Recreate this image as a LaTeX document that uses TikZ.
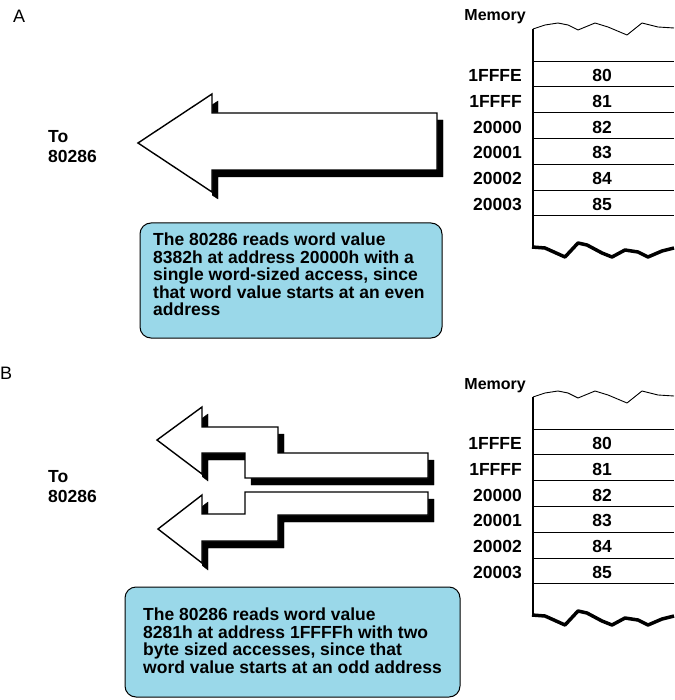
\documentclass[tikz,border=0pt]{standalone}
\usepackage{fontspec}
\setmainfont{Liberation Sans}
\usetikzlibrary{positioning}
\definecolor{memNote}{HTML}{9AD8E9}
\tikzset{
  memtext/.style={font=\fontsize{17.5}{17.5}\selectfont\bfseries, inner sep=0pt},
  memhead/.style={font=\fontsize{16}{16}\selectfont\bfseries, inner sep=0pt, anchor=base east},
  addr/.style={memtext, anchor=base east},
  byteval/.style={memtext, anchor=base},
  notetext/.style={memtext, align=left, anchor=north west},
  notebox/.style={draw, fill=memNote, rounded corners=11pt, line width=1pt},
  tolabel/.style={font=\fontsize{17.5}{20}\selectfont\bfseries, inner sep=0pt, align=left, anchor=north west},
  panel/.style={font=\fontsize{18}{18}\selectfont, inner sep=0pt, anchor=north west},
  bigarrow/.style={draw, fill=white, line width=1.4pt, line join=miter},
  bigshadow/.style={fill=black},
  cell/.style={line width=0.9pt},
  memedge/.style={line width=1.6pt},
  tornedge/.style={line width=0.9pt, line join=round},
  tornbottom/.style={line width=3.5pt, line join=round}
}

\begin{document}
\begin{tikzpicture}[x=1pt, y=-1pt]
  \fill[white] (0,0) rectangle (674,700);
  \useasboundingbox (0,0) rectangle (674,700);

  % panel letters
  \node[panel] (labA) at (13,10) {A};
  \node[panel] (labB) at (0,367) {B};

  % memory columns, one per panel
  \foreach \dy/\p in {0/a,368/b}{
    \begin{scope}[shift={(0,\dy)}]
      \node[memhead] (mem\p) at (526,21) {Memory};
      \draw[tornedge] (533,29) -- (545,25) -- (558,23) -- (568,25) -- (578,30) -- (595,23)
        -- (608,27) -- (627,35) -- (642,23) -- (658,27) -- (674,28);
      \draw[memedge] (533,29) -- (533,248);
      \foreach \k in {0,...,6}
        \draw[cell] (533,{61+25.8*\k}) -- (674,{61+25.8*\k});
      \foreach \a/\v [count=\i from 0] in {1FFFE/80,1FFFF/81,20000/82,20001/83,20002/84,20003/85}{
        \node[addr] (addr\p\i) at (522,{81.5+25.8*\i}) {\a};
        \node[byteval] (val\p\i) at (602,{81.5+25.8*\i}) {\v};
      }
      \draw[tornbottom] (532,247) -- (545,248) -- (565,257) -- (578,243) -- (587,245) -- (602,253)
        -- (612,257) -- (625,250) -- (638,252) -- (648,257) -- (662,251) -- (674,248);
    \end{scope}
  }

  % A: one word-sized access (shadow kept behind the head)
  \foreach \dx/\dy/\sty/\cx in {6/7/bigshadow/212,0/0/bigarrow/0}{
    \begin{scope}
      \clip (\cx,0) rectangle (674,700);
      \draw[\sty, shift={(\dx,\dy)}] (138,143) -- (212,94) -- (212,113) -- (437,113)
        -- (437,170) -- (212,170) -- (212,192) -- cycle;
    \end{scope}
  }
  \node[tolabel] (toA) at (48,130) {To\\80286};
  \draw[notebox] (140,223) rectangle (442,338);
  \node[notetext] (noteA) at (153,233) {The 80286 reads word value\\8382h at address 20000h with a\\single word-sized access, since\\that word value starts at an even\\address};

  % B: two byte-sized accesses
  \foreach \dx/\dy/\sty/\cx in {6/7/bigshadow/202,0/0/bigarrow/0}{
    \begin{scope}
      \clip (\cx,0) rectangle (674,700);
      \draw[\sty, shift={(\dx,\dy)}] (157,440) -- (202,407) -- (202,427) -- (278,427) -- (278,453)
        -- (428,453) -- (428,478) -- (245,478) -- (245,453) -- (202,453) -- (202,474) -- cycle;
      \draw[\sty, shift={(\dx,\dy)}] (158,529) -- (202,495) -- (202,514) -- (245,514) -- (245,492)
        -- (428,492) -- (428,515) -- (278,515) -- (278,541) -- (202,541) -- (202,563) -- cycle;
    \end{scope}
  }
  \node[tolabel] (toB) at (48,470) {To\\80286};
  \draw[notebox] (125,587) rectangle (460,697);
  \node[notetext] (noteB) at (143,608) {The 80286 reads word value\\8281h at address 1FFFFh with two\\byte sized accesses, since that\\word value starts at an odd address};
\end{tikzpicture}
\end{document}
